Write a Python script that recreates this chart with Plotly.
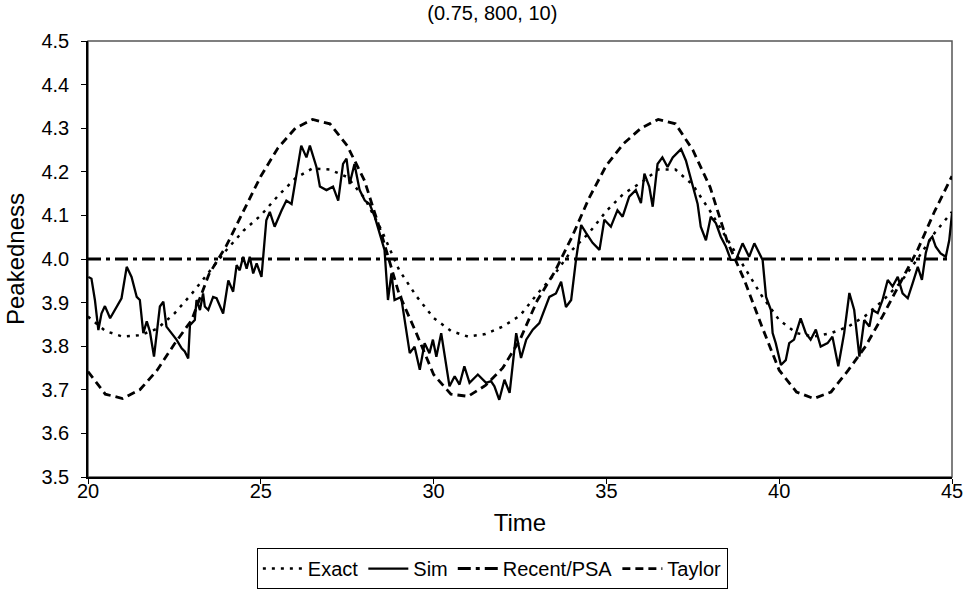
import plotly.graph_objects as go

# ---- data ----
grid_t = [20.0, 20.5, 21.0, 21.5, 22.0, 22.5, 23.0, 23.5, 24.0, 24.5, 25.0, 25.5,
          26.0, 26.5, 27.0, 27.5, 28.0, 28.5, 29.0, 29.5, 30.0, 30.5, 31.0, 31.5,
          32.0, 32.5, 33.0, 33.5, 34.0, 34.5, 35.0, 35.5, 36.0, 36.5, 37.0, 37.5,
          38.0, 38.5, 39.0, 39.5, 40.0, 40.5, 41.0, 41.5, 42.0, 42.5, 43.0, 43.5,
          44.0, 44.5, 45.0]

exact = [3.868, 3.835, 3.822, 3.825, 3.840, 3.875, 3.920, 3.970, 4.020, 4.065, 4.100, 4.145,
         4.185, 4.208, 4.205, 4.188, 4.140, 4.065, 3.975, 3.915, 3.865, 3.835, 3.822, 3.828,
         3.845, 3.870, 3.920, 3.965, 4.020, 4.060, 4.110, 4.150, 4.175, 4.205, 4.205, 4.170,
         4.110, 4.045, 3.980, 3.915, 3.860, 3.830, 3.822, 3.830, 3.845, 3.870, 3.905, 3.945,
         4.000, 4.060, 4.108]

taylor = [3.742, 3.690, 3.680, 3.700, 3.745, 3.805, 3.860, 3.965, 4.030, 4.110, 4.190, 4.255,
          4.300, 4.320, 4.310, 4.260, 4.180, 4.055, 3.920, 3.830, 3.735, 3.690, 3.685, 3.710,
          3.750, 3.815, 3.905, 3.970, 4.050, 4.140, 4.215, 4.265, 4.300, 4.320, 4.310, 4.250,
          4.165, 4.040, 3.950, 3.845, 3.745, 3.695, 3.680, 3.695, 3.745, 3.800, 3.870, 3.945,
          4.020, 4.110, 4.190]

recent_t = [20.0, 45.0]
recent_psa = [4.0, 4.0]

sim_t = [20.01, 20.10, 20.20, 20.30, 20.39, 20.49, 20.64, 20.97, 21.12, 21.26, 21.41, 21.50,
         21.60, 21.70, 21.79, 21.91, 22.08, 22.18, 22.27, 22.37, 22.56, 22.71, 22.80, 22.90,
         22.95, 23.09, 23.14, 23.24, 23.33, 23.38, 23.48, 23.62, 23.72, 23.91, 24.06, 24.20,
         24.30, 24.39, 24.49, 24.59, 24.68, 24.78, 24.88, 25.02, 25.16, 25.26, 25.40, 25.60,
         25.74, 25.89, 25.98, 26.17, 26.32, 26.42, 26.61, 26.71, 26.90, 27.09, 27.24, 27.38,
         27.48, 27.57, 27.71, 27.86, 28.01, 28.15, 28.30, 28.44, 28.58, 28.68, 28.78, 28.87,
         29.06, 29.31, 29.45, 29.60, 29.74, 29.88, 29.98, 30.08, 30.22, 30.46, 30.61, 30.75,
         30.89, 31.04, 31.28, 31.52, 31.66, 31.76, 31.90, 32.05, 32.20, 32.39, 32.53, 32.68,
         32.87, 33.06, 33.20, 33.35, 33.54, 33.69, 33.83, 33.98, 34.12, 34.27, 34.41, 34.60,
         34.80, 34.94, 35.13, 35.32, 35.47, 35.66, 35.85, 36.00, 36.10, 36.24, 36.34, 36.48,
         36.62, 36.77, 36.92, 37.01, 37.16, 37.30, 37.49, 37.64, 37.73, 37.88, 38.02, 38.17,
         38.31, 38.46, 38.60, 38.75, 38.94, 39.13, 39.28, 39.42, 39.52, 39.62, 39.76, 39.81,
         39.90, 40.05, 40.19, 40.29, 40.43, 40.62, 40.77, 40.91, 41.06, 41.20, 41.40, 41.54,
         41.71, 41.88, 42.03, 42.17, 42.32, 42.46, 42.61, 42.70, 42.85, 42.99, 43.14, 43.28,
         43.43, 43.57, 43.72, 43.86, 44.01, 44.13, 44.24, 44.34, 44.43, 44.53, 44.67, 44.82,
         44.92, 45.00]

sim = [3.959, 3.955, 3.906, 3.837, 3.875, 3.892, 3.864, 3.910, 3.982, 3.959, 3.913, 3.906,
       3.830, 3.857, 3.834, 3.776, 3.891, 3.902, 3.845, 3.834, 3.815, 3.795, 3.788, 3.772,
       3.848, 3.860, 3.906, 3.883, 3.921, 3.891, 3.883, 3.913, 3.910, 3.875, 3.951, 3.925,
       3.986, 3.974, 4.005, 3.978, 4.005, 3.967, 3.990, 3.959, 4.089, 4.108, 4.074, 4.111,
       4.134, 4.126, 4.172, 4.260, 4.233, 4.260, 4.211, 4.166, 4.158, 4.166, 4.134, 4.218,
       4.230, 4.172, 4.218, 4.158, 4.134, 4.126, 4.096, 4.060, 4.021, 3.906, 3.967, 3.906,
       3.913, 3.784, 3.799, 3.746, 3.807, 3.784, 3.815, 3.776, 3.830, 3.708, 3.731, 3.712,
       3.754, 3.716, 3.735, 3.716, 3.720, 3.708, 3.677, 3.723, 3.693, 3.830, 3.773, 3.815,
       3.838, 3.853, 3.883, 3.913, 3.921, 3.948, 3.890, 3.906, 3.998, 4.078, 4.060, 4.037,
       4.021, 4.090, 4.074, 4.112, 4.097, 4.143, 4.158, 4.128, 4.196, 4.166, 4.120, 4.218,
       4.233, 4.211, 4.233, 4.241, 4.252, 4.226, 4.172, 4.126, 4.074, 4.043, 4.097, 4.082,
       4.051, 4.028, 3.998, 3.998, 4.036, 4.005, 4.036, 4.013, 3.998, 3.913, 3.883, 3.830,
       3.807, 3.757, 3.768, 3.807, 3.815, 3.864, 3.830, 3.815, 3.838, 3.799, 3.807, 3.822,
       3.754, 3.830, 3.922, 3.883, 3.776, 3.860, 3.845, 3.883, 3.876, 3.906, 3.952, 3.937,
       3.959, 3.921, 3.910, 3.944, 3.982, 3.952, 4.013, 4.043, 4.051, 4.028, 4.013, 4.005,
       4.043, 4.104]

x_ticks = [20, 25, 30, 35, 40, 45]
y_ticks = [3.5, 3.6, 3.7, 3.8, 3.9, 4.0, 4.1, 4.2, 4.3, 4.4, 4.5]
y_tick_text = ["%.1f" % v for v in y_ticks]

FONT = "Liberation Sans, Arial, sans-serif"
FS = 20

fig = go.Figure()
fig.add_trace(go.Scatter(x=grid_t, y=exact, mode="lines", name="Exact",
                         line=dict(color="black", width=2.5, dash="3px,6px")))
fig.add_trace(go.Scatter(x=sim_t, y=sim, mode="lines", name="Sim",
                         line=dict(color="black", width=2.3)))
fig.add_trace(go.Scatter(x=recent_t, y=recent_psa, mode="lines", name="Recent/PSA",
                         line=dict(color="black", width=3, dash="13px,5px,4px,5px")))
fig.add_trace(go.Scatter(x=grid_t, y=taylor, mode="lines", name="Taylor",
                         line=dict(color="black", width=2.8, dash="8px,5px")))

fig.add_shape(type="rect", xref="paper", yref="paper", x0=0, y0=0, x1=1, y1=1,
              line=dict(color="#555555", width=1.5), layer="below")

fig.update_layout(
    width=965, height=589,
    margin=dict(l=88, r=13, t=41, b=112, autoexpand=False),
    paper_bgcolor="white", plot_bgcolor="white",
    font=dict(family=FONT, size=FS, color="black"),
    title=dict(text="(0.75, 800, 10)", x=0.468, xref="paper", xanchor="center",
               y=0.978, yanchor="middle", font=dict(size=FS)),
    showlegend=True,
    legend=dict(orientation="h", x=0.468, xanchor="center", y=-0.163, yanchor="top",
                bordercolor="black", borderwidth=1, bgcolor="white",
                font=dict(size=FS), itemwidth=40, tracegroupgap=0),
    xaxis=dict(range=[20, 45], tickvals=x_ticks, ticks="outside", ticklen=5,
               tickcolor="black", showline=True, linecolor="black", linewidth=1.5,
               showgrid=False, zeroline=False, automargin=False,
               ticklabelstandoff=-10,
               title=dict(text="Time", standoff=13), tickfont=dict(size=FS)),
    yaxis=dict(range=[3.5, 4.5], tickvals=y_ticks, ticktext=y_tick_text,
               ticks="outside", ticklen=5, tickcolor="black", showline=True,
               linecolor="black", linewidth=1.5, showgrid=False, zeroline=False,
               automargin=False, ticklabelstandoff=8,
               title=dict(text="Peakedness", standoff=10), tickfont=dict(size=FS)),
)

# remove the page's default body margin so the figure fills the window exactly
fig.write_html("out.html", config={"displayModeBar": False},
               post_script="document.body.style.margin='0';document.body.style.overflow='hidden';")
